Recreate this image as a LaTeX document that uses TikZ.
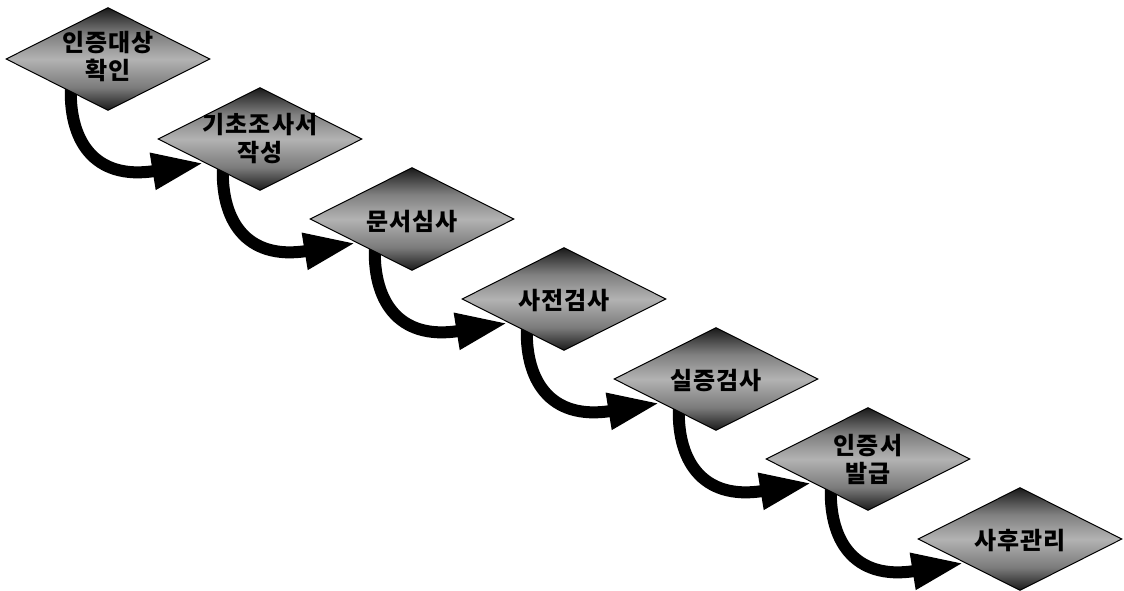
\documentclass[tikz,border=0pt]{standalone}
\usepackage{fontspec}
\newfontfamily\kr{Noto Sans CJK KR}[LetterSpace=4]
\usetikzlibrary{shapes.geometric, arrows.meta}
\pgfdeclarelayer{background}
\pgfsetlayers{background,main}
\pgfdeclareverticalshading{diashade}{100bp}{color(0bp)=(black!90); color(25bp)=(black!90); color(36bp)=(black!52); color(50bp)=(black!30); color(62bp)=(black!50); color(75bp)=(black!90); color(100bp)=(black!90)}
\tikzset{
  dia/.style={diamond, draw=black, line width=1pt, shading=diashade,
    minimum width=204pt, minimum height=103pt, inner sep=0pt, shape aspect=2},
  lbl/.style={font=\kr\bfseries\fontsize{24pt}{28pt}\selectfont, align=center,
    text=black, inner sep=0pt},
  flow/.style={line width=12pt, draw=black, -{Triangle[length=52pt,width=34pt]}}
}
\begin{document}
\begin{tikzpicture}[x=1pt,y=-1pt]
\useasboundingbox (0,0) rectangle (1124,590);
\node[dia] (d1) at (108,59) {};
\node[dia] (d2) at (260,139) {};
\node[dia] (d3) at (412,219) {};
\node[dia] (d4) at (564,299) {};
\node[dia] (d5) at (716,379) {};
\node[dia] (d6) at (868,459) {};
\node[dia] (d7) at (1020,539) {};
\node[lbl] (t1) at ([shift={(0,-2)}]d1.center) {인증대상\\확인};
\node[lbl] (t2) at (d2.center) {기초조사서\\작성};
\node[lbl] (t3) at ([shift={(0,3)}]d3.center) {문서심사};
\node[lbl] (t4) at ([shift={(0,2)}]d4.center) {사전검사};
\node[lbl] (t5) at ([shift={(0,2)}]d5.center) {실증검사};
\node[lbl] (t6) at (d6.center) {인증서\\발급};
\node[lbl] (t7) at ([shift={(0,2)}]d7.center) {사후관리};
\begin{pgfonlayer}{background}
\foreach \a/\b in {1/2,2/3,3/4,4/5,5/6,6/7}{
  \draw[flow] ([shift={(-37,25)}]d\a.center)
    .. controls ([shift={(-40,80)}]d\a.center) and ([shift={(-15,122)}]d\a.center)
    .. ([shift={(-56,24)}]d\b.center);
}
\end{pgfonlayer}
\end{tikzpicture}
\end{document}
